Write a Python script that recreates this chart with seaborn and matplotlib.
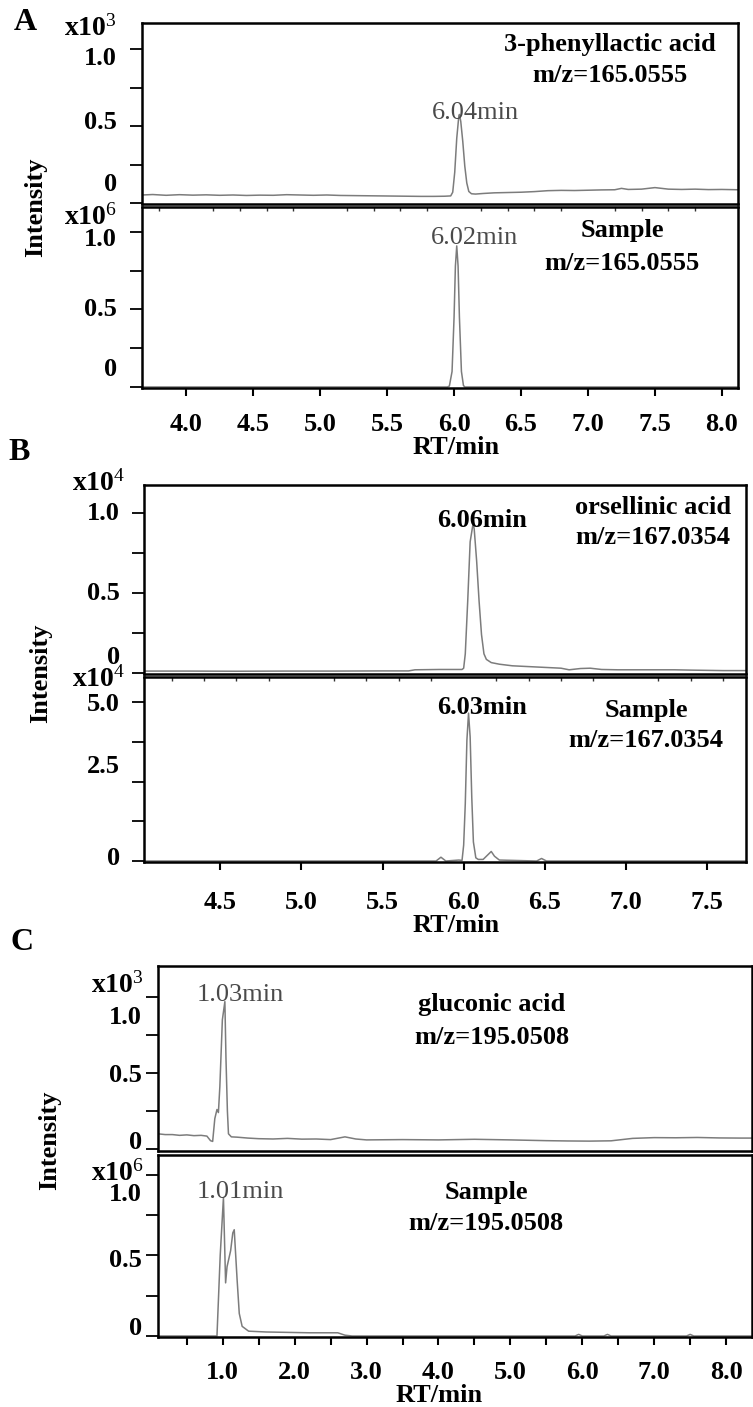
import seaborn as sns
import matplotlib.pyplot as plt
from matplotlib.ticker import FixedLocator, FixedFormatter

sns.set_theme(style="white")
plt.rcParams["font.family"] = ["Liberation Serif", "DejaVu Serif"]
plt.rcParams["mathtext.fontset"] = "custom"
plt.rcParams["mathtext.rm"] = "Liberation Serif"
plt.rcParams["mathtext.it"] = "Liberation Serif:italic"
plt.rcParams["mathtext.bf"] = "Liberation Serif:bold"

# ---------------- chromatogram traces (RT in min, intensity in scaled units) ----------------
# A: 3-phenyllactic acid standard (x10^3) and sample (x10^6)
a_std_rt = [3.67, 3.75, 3.85, 3.95, 4.05, 4.15, 4.25, 4.35, 4.45, 4.55, 4.65, 4.75, 4.85,
            4.95, 5.05, 5.15, 5.25, 5.35, 5.45, 5.55, 5.65, 5.75, 5.85, 5.93, 5.975, 5.99,
            6.005, 6.02, 6.035, 6.04, 6.05, 6.065, 6.08, 6.095, 6.11, 6.13, 6.16, 6.22,
            6.30, 6.40, 6.50, 6.60, 6.70, 6.80, 6.90, 7.00, 7.10, 7.20, 7.25, 7.30, 7.40,
            7.50, 7.60, 7.70, 7.80, 7.90, 8.00, 8.12]
a_std_int = [0.052, 0.055, 0.050, 0.054, 0.051, 0.053, 0.050, 0.052, 0.049, 0.051, 0.050,
             0.054, 0.052, 0.050, 0.052, 0.049, 0.048, 0.047, 0.046, 0.045, 0.044, 0.043,
             0.043, 0.044, 0.046, 0.07, 0.20, 0.42, 0.56, 0.575, 0.53, 0.40, 0.24, 0.13,
             0.075, 0.06, 0.058, 0.062, 0.066, 0.068, 0.070, 0.074, 0.080, 0.082, 0.081,
             0.083, 0.085, 0.086, 0.095, 0.088, 0.090, 0.100, 0.090, 0.088, 0.090, 0.087,
             0.088, 0.086]
a_smp_rt = [3.67, 5.95, 5.965, 5.985, 6.00, 6.01, 6.02, 6.03, 6.04, 6.055, 6.07, 6.08, 8.12]
a_smp_int = [0.0, 0.0, 0.006, 0.10, 0.45, 0.78, 0.91, 0.78, 0.45, 0.10, 0.01, 0.0, 0.0]

# B: orsellinic acid standard (x10^4) and sample (x10^4)
b_std_rt = [4.03, 4.3, 4.6, 4.9, 5.2, 5.5, 5.66, 5.70, 5.85, 5.99, 6.00, 6.01, 6.025, 6.04,
            6.055, 6.06, 6.065, 6.08, 6.095, 6.11, 6.125, 6.14, 6.17, 6.22, 6.30, 6.40, 6.50,
            6.60, 6.65, 6.72, 6.78, 6.85, 6.95, 7.10, 7.30, 7.40, 7.60, 7.74]
b_std_int = [0.012, 0.012, 0.011, 0.012, 0.012, 0.013, 0.013, 0.020, 0.022, 0.022, 0.03,
             0.12, 0.45, 0.82, 0.915, 0.925, 0.90, 0.70, 0.45, 0.24, 0.12, 0.085, 0.065,
             0.055, 0.045, 0.040, 0.035, 0.030, 0.020, 0.028, 0.030, 0.022, 0.020, 0.020,
             0.020, 0.018, 0.015, 0.015]
b_smp_rt = [4.03, 5.83, 5.86, 5.89, 5.97, 5.99, 6.00, 6.01, 6.02, 6.03, 6.04, 6.05, 6.06,
            6.075, 6.09, 6.12, 6.15, 6.17, 6.19, 6.22, 6.30, 6.45, 6.48, 6.51, 7.74]
b_smp_int = [0.0, 0.0, 0.12, 0.0, 0.03, 0.02, 0.5, 1.8, 3.8, 4.65, 3.9, 2.0, 0.6, 0.1,
             0.05, 0.05, 0.2, 0.3, 0.15, 0.03, 0.02, 0.0, 0.08, 0.0, 0.0]

# C: gluconic acid standard (x10^3) and sample (x10^6)
c_std_rt = [0.10, 0.20, 0.30, 0.40, 0.50, 0.60, 0.70, 0.78, 0.83, 0.86, 0.89, 0.92, 0.94,
            0.96, 0.995, 1.03, 1.045, 1.065, 1.08, 1.12, 1.20, 1.35, 1.50, 1.70, 1.90, 2.10,
            2.30, 2.50, 2.70, 2.85, 3.00, 3.50, 4.00, 4.50, 5.00, 5.50, 5.80, 6.10, 6.40,
            6.70, 7.00, 7.30, 7.60, 7.90, 8.20, 8.36]
c_std_int = [0.10, 0.095, 0.095, 0.09, 0.093, 0.088, 0.09, 0.085, 0.055, 0.05, 0.20, 0.26,
             0.24, 0.41, 0.85, 0.97, 0.60, 0.25, 0.10, 0.08, 0.078, 0.072, 0.068, 0.066,
             0.070, 0.065, 0.066, 0.062, 0.080, 0.066, 0.060, 0.062, 0.060, 0.064, 0.060,
             0.055, 0.053, 0.052, 0.054, 0.070, 0.075, 0.074, 0.076, 0.073, 0.072, 0.072]
c_smp_rt = [0.10, 0.92, 0.965, 1.01, 1.04, 1.06, 1.11, 1.14, 1.16, 1.20, 1.23, 1.27, 1.36,
            1.60, 2.20, 2.60, 2.70, 2.80, 5.90, 5.95, 6.00, 6.30, 6.35, 6.40, 7.45, 7.50,
            7.55, 8.36]
c_smp_int = [0.0, 0.0, 0.50, 0.86, 0.33, 0.43, 0.53, 0.64, 0.66, 0.35, 0.14, 0.06, 0.03,
             0.025, 0.02, 0.02, 0.005, 0.0, 0.0, 0.01, 0.0, 0.0, 0.01, 0.0, 0.0, 0.01, 0.0,
             0.0]

# peak retention times printed above the apex of each trace
peak_rt = {"A": (6.04, 6.02), "B": (6.06, 6.03), "C": (1.03, 1.01)}

compound_names = {"A": "3-phenyllactic acid", "B": "orsellinic acid", "C": "gluconic acid"}
mz_values = {"A": "165.0555", "B": "167.0354", "C": "195.0508"}
scale_exponents = {"A": ("3", "6"), "B": ("4", "4"), "C": ("3", "6")}

# x-axis ticks and labels
a_xticks = [4.0, 4.5, 5.0, 5.5, 6.0, 6.5, 7.0, 7.5, 8.0]
a_xlabels = ["4.0", "4.5", "5.0", "5.5", "6.0", "6.5", "7.0", "7.5", "8.0"]
b_xticks = [4.5, 5.0, 5.5, 6.0, 6.5, 7.0, 7.5]
b_xlabels = ["4.5", "5.0", "5.5", "6.0", "6.5", "7.0", "7.5"]
c_xticks = [0.5, 1.0, 1.5, 2.0, 2.5, 3.0, 3.5, 4.0, 4.5, 5.0, 5.5, 6.0, 6.5, 7.0, 7.5, 8.0]
c_xlabels = ["", "1.0", "", "2.0", "", "3.0", "", "4.0", "", "5.0", "", "6.0", "", "7.0",
             "", "8.0"]

# y-axis ticks and labels (upper, lower chromatogram of each panel)
unit_yticks = [0.0, 0.25, 0.5, 0.75, 1.0]
b_low_yticks = [0.0, 1.25, 2.5, 3.75, 5.0]
unit_ylabels = [("0", 0.0), ("0.5", 0.5), ("1.0", 1.0)]
b_low_ylabels = [("0", 0.0), ("2.5", 2.5), ("5.0", 5.0)]

# ---------------- layout (pixels of a 753 x 1407 canvas) ----------------
W, H = 753, 1407
fig = plt.figure(figsize=(W / 100, H / 100), dpi=100)
fig.patch.set_facecolor("white")

TRACE = "#7c7c7c"
BOLD = dict(fontweight="bold", color="black")
FS = 19

panels = {
    "A": dict(left=142, right=738, top=(23, 204), low=(207, 388), xlim=(3.67, 8.12),
              ylim_top=(-0.0065, 1.169), ylim_low=(-0.0065, 1.161),
              std=(a_std_rt, a_std_int), smp=(a_smp_rt, a_smp_int),
              xt=(a_xticks, a_xlabels), top_minor=0.2, xpad=12,
              yt_top=unit_yticks, yl_top=unit_ylabels, yoff_top={1.0: 9, 0.5: -4, 0.0: -18},
              yt_low=unit_yticks, yl_low=unit_ylabels, yoff_low={1.0: 8, 0.5: 0, 0.0: -17},
              ygap=25, scale_x=117, scale_y=(28, 217),
              name_xy=(610, 45, 76), smp_xy=(622, 231, 263),
              peak_xy=((475, 113), (475, 238)), peak_bold=False,
              rt_xy=(456, 448), int_xy=(36, 207), letter_xy=(25, 22)),
    "B": dict(left=144, right=746, top=(485, 674), low=(677, 862), xlim=(4.03, 7.74),
              ylim_top=(-0.00625, 1.175), ylim_low=(-0.031, 5.786),
              std=(b_std_rt, b_std_int), smp=(b_smp_rt, b_smp_int),
              xt=(b_xticks, b_xlabels), top_minor=0.2, xpad=15,
              yt_top=unit_yticks, yl_top=unit_ylabels, yoff_top={1.0: 0, 0.5: 0, 0.0: -16},
              yt_low=b_low_yticks, yl_low=b_low_ylabels, yoff_low={5.0: 3, 2.5: -15, 0.0: -3},
              ygap=24, scale_x=125, scale_y=(483, 679),
              name_xy=(653, 507, 538), smp_xy=(646, 710, 741),
              peak_xy=((482, 520), (482, 707)), peak_bold=True,
              rt_xy=(456, 926), int_xy=(41, 673), letter_xy=(19, 452)),
    "C": dict(left=158, right=752, top=(966, 1151), low=(1155, 1337), xlim=(0.1, 8.36),
              ylim_top=(-0.013, 1.204), ylim_low=(-0.0062, 1.124),
              std=(c_std_rt, c_std_int), smp=(c_smp_rt, c_smp_int),
              xt=(c_xticks, c_xlabels), top_minor=0.5, xpad=11,
              yt_top=unit_yticks, yl_top=unit_ylabels, yoff_top={1.0: 20, 0.5: 2, 0.0: -7},
              yt_low=unit_yticks, yl_low=unit_ylabels, yoff_low={1.0: 20, 0.5: 5, 0.0: -8},
              ygap=16, scale_x=144, scale_y=(985, 1173),
              name_xy=(492, 1005, 1037), smp_xy=(486, 1192, 1223),
              peak_xy=((240, 995), (240, 1192)), peak_bold=False,
              rt_xy=(439, 1395), int_xy=(50, 1140), letter_xy=(22, 942)),
}


def fx(px):
    return px / W


def fy(py):
    return 1 - py / H


def add_axes(left, right, top, bottom):
    return fig.add_axes([fx(left), fy(bottom), (right - left) / W, (bottom - top) / H])


def style_axes(ax):
    ax.set_facecolor("white")
    for sp in ax.spines.values():
        sp.set_visible(True)
        sp.set_color("black")
        sp.set_linewidth(1.8)
    ax.set_xlabel("")
    ax.set_ylabel("")


def y_labels(ax, labels, offsets, gap_px):
    for text, val in labels:
        ax.annotate(text, xy=(0, val), xycoords=("axes fraction", "data"),
                    xytext=(-gap_px * 0.72, -offsets[val] * 0.72),
                    textcoords="offset points", ha="right", va="center",
                    fontsize=FS, annotation_clip=False, **BOLD)


for key, p in panels.items():
    ax_top = add_axes(p["left"], p["right"], *p["top"])
    ax_low = add_axes(p["left"], p["right"], *p["low"])
    for ax, (rt, inten), ylim in ((ax_top, p["std"], p["ylim_top"]),
                                  (ax_low, p["smp"], p["ylim_low"])):
        sns.lineplot(x=rt, y=inten, ax=ax, color=TRACE, linewidth=1.1,
                     estimator=None, sort=False)
        style_axes(ax)
        ax.set_xlim(*p["xlim"])
        ax.set_ylim(*ylim)

    # y ticks (outward) with hand-placed labels
    for ax, ticks, labels, offs in ((ax_top, p["yt_top"], p["yl_top"], p["yoff_top"]),
                                    (ax_low, p["yt_low"], p["yl_low"], p["yoff_low"])):
        ax.yaxis.set_major_locator(FixedLocator(ticks))
        ax.tick_params(axis="y", which="major", left=True, direction="out", length=9,
                       width=1.3, color="black", labelleft=False)
        y_labels(ax, labels, offs, p["ygap"])

    # upper chromatogram: no x ticks
    ax_top.tick_params(axis="x", which="both", bottom=False, top=False, labelbottom=False)

    # lower chromatogram: labelled RT ticks below, fine ticks along the divider
    xt, xl = p["xt"]
    ax_low.xaxis.set_major_locator(FixedLocator(xt))
    ax_low.xaxis.set_major_formatter(FixedFormatter(xl))
    lo, hi = p["xlim"]
    step = p["top_minor"]
    minor = []
    v = round(lo / step + 0.5) * step
    while v < hi:
        minor.append(round(v, 3))
        v += step
    ax_low.xaxis.set_minor_locator(FixedLocator(minor))
    ax_low.tick_params(axis="x", which="major", bottom=True, top=False, direction="out",
                       length=6, width=1.5, color="black", pad=p["xpad"], labelsize=FS)
    ax_low.tick_params(axis="x", which="minor", bottom=False, top=True, direction="in",
                       length=3, width=1.0, color="#333333")
    for lbl in ax_low.get_xticklabels():
        lbl.set_fontweight("bold")
        lbl.set_color("black")

    # intensity scale factors
    e_top, e_low = scale_exponents[key]
    for ypx, e in zip(p["scale_y"], (e_top, e_low)):
        fig.text(fx(p["scale_x"]), fy(ypx), "x10$^{%s}$" % e, ha="right", va="center",
                 fontsize=20, **BOLD)

    # compound / sample annotations
    nx, ny1, ny2 = p["name_xy"]
    fig.text(fx(nx), fy(ny1), compound_names[key], ha="center", va="center",
             fontsize=FS, **BOLD)
    fig.text(fx(nx), fy(ny2), "m/z=" + mz_values[key], ha="center", va="center",
             fontsize=FS, **BOLD)
    sx, sy1, sy2 = p["smp_xy"]
    fig.text(fx(sx), fy(sy1), "Sample", ha="center", va="center", fontsize=FS, **BOLD)
    fig.text(fx(sx), fy(sy2), "m/z=" + mz_values[key], ha="center", va="center",
             fontsize=FS, **BOLD)

    # retention time labels at each apex
    for (px_, py_), rt_val in zip(p["peak_xy"], peak_rt[key]):
        if p["peak_bold"]:
            fig.text(fx(px_), fy(py_), f"{rt_val:.2f}min", ha="center", va="center",
                     fontsize=FS, **BOLD)
        else:
            fig.text(fx(px_), fy(py_), f"{rt_val:.2f}min", ha="center", va="center",
                     fontsize=FS, color="#4a4a4a")

    # axis titles and panel letter
    fig.text(fx(p["rt_xy"][0]), fy(p["rt_xy"][1]), "RT/min", ha="center", va="center",
             fontsize=FS, **BOLD)
    fig.text(fx(p["int_xy"][0]), fy(p["int_xy"][1]), "Intensity", ha="center",
             va="center", rotation=90, fontsize=FS, **BOLD)
    fig.text(fx(p["letter_xy"][0]), fy(p["letter_xy"][1]), key, ha="center", va="center",
             fontsize=23, **BOLD)

fig.savefig("out.png", dpi=100, facecolor="white")
